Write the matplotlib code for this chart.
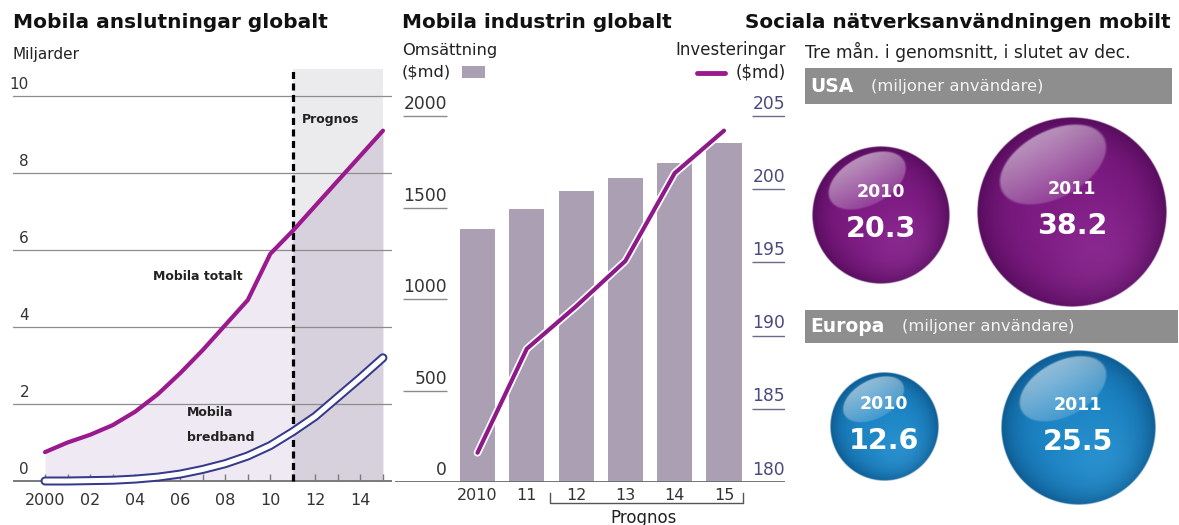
import matplotlib
matplotlib.use("Agg")
import matplotlib.pyplot as plt
import matplotlib.patheffects as pe
from matplotlib.patches import Rectangle
from matplotlib.colors import to_rgb
import numpy as np

W, H = 1179, 525

# --- data -------------------------------------------------------------
years = list(range(2000, 2016))
year_labels = ["2000", "02", "04", "06", "08", "10", "12", "14"]
mobila_totalt = [0.75, 1.0, 1.2, 1.45, 1.8, 2.25, 2.8, 3.4, 4.05, 4.7,
                 5.9, 6.5, 7.15, 7.8, 8.45, 9.1]
mobila_bredband = [0.0, 0.0, 0.01, 0.02, 0.05, 0.1, 0.18, 0.3, 0.45, 0.65,
                   0.92, 1.28, 1.68, 2.18, 2.68, 3.2]
prognos_start = 2011

ind_labels = ["2010", "11", "12", "13", "14", "15"]
omsattning = [1380, 1490, 1590, 1660, 1745, 1850]
investeringar = [182.0, 189.1, 192.0, 195.1, 201.1, 204.0]
left_ticks = [0, 500, 1000, 1500, 2000]
right_ticks = [180, 185, 190, 195, 200, 205]

social_years = ["2010", "2011"]
usa_users = [20.3, 38.2]
europa_users = [12.6, 25.5]

plt.rcParams["font.family"] = ["DejaVu Sans"]
fig = plt.figure(figsize=(W / 100, H / 100), dpi=100)
fig.patch.set_facecolor("white")


def px_axes(l, t, r, b):
    return fig.add_axes([l / W, 1 - b / H, (r - l) / W, (b - t) / H])


def ftext(x, y, s, **kw):
    kw.setdefault("va", "center")
    fig.text(x / W, 1 - y / H, s, **kw)


# --- panel 1: Mobila anslutningar globalt --------------------------------
ax1 = px_axes(13, 69, 392, 492.5)
x0, x1 = 2000 - 32 / 22.53, 2000 + 347 / 22.53
y0, y1 = -11.5 / 38.5, 412 / 38.5
ax1.set_xlim(x0, x1)
ax1.set_ylim(y0, y1)
ax1.axis("off")

yrs = np.array(years)
tot = np.array(mobila_totalt)
ax1.fill_between([prognos_start, yrs[-1]], 0, y1, color="#ebebee", lw=0, zorder=0)
m = yrs <= prognos_start
ax1.fill_between(yrs[m], 0, tot[m], color="#efe9f3", lw=0, zorder=1)
m = yrs >= prognos_start
ax1.fill_between(yrs[m], 0, tot[m], color="#d7d0dd", lw=0, zorder=1)

for v in [2, 4, 6, 8, 10]:
    ax1.axhline(v, color="#8d8d8d", lw=0.9, zorder=2)
ax1.axhline(0, color="#7a7a7a", lw=1.4, zorder=2)
ax1.vlines(years, 0, 0.17, color="#7a7a7a", lw=1.0, zorder=2)
for v in [0, 2, 4, 6, 8, 10]:
    ax1.text(1999.29, v + 0.31, str(v), ha="right", va="center",
             fontsize=11, color="#333333")
for yl, yr in zip(year_labels, years[::2]):
    ax1.text(yr, -0.5, yl, ha="center", va="center", fontsize=11.5,
             color="#333333", clip_on=False)

ax1.plot([prognos_start, prognos_start], [0, y1], color="black", lw=2.3,
         ls=(0, (2.2, 1.4)), zorder=4)
ax1.plot(years, mobila_totalt, color="#9a1a8e", lw=3, zorder=5,
         solid_capstyle="round")
ax1.plot(years, mobila_bredband, color="#353a8c", lw=6.5, zorder=5,
         solid_capstyle="round", clip_on=False)
ax1.plot(years, mobila_bredband, color="white", lw=3.6, zorder=6,
         solid_capstyle="round", clip_on=False)

ax1.text(2006.8, 5.32, "Mobila totalt", ha="center", va="center",
         fontsize=9, fontweight="bold", color="#222222")
ax1.text(2006.3, 1.79, "Mobila", ha="left", va="center",
         fontsize=9, fontweight="bold", color="#222222")
ax1.text(2006.3, 1.14, "bredband", ha="left", va="center",
         fontsize=9, fontweight="bold", color="#222222")
ax1.text(2011.4, 9.38, "Prognos", ha="left", va="center",
         fontsize=9, fontweight="bold", color="#222222")

ftext(13, 22, "Mobila anslutningar globalt", fontsize=14.5,
      fontweight="bold", color="#111111")
ftext(13, 55, "Miljarder", fontsize=11, color="#222222")

# --- panel 2: Mobila industrin globalt -----------------------------------
ax2 = px_axes(395, 100, 785, 482)
xl0, xl1 = (395 - 477.5) / 49.3, (785 - 477.5) / 49.3
top = 382 / 0.183
ax2.set_xlim(xl0, xl1)
ax2.set_ylim(0, top)
ax2.axis("off")
idx = np.arange(len(ind_labels))
ax2.bar(idx, omsattning, width=0.71, color="#ab9fb3", zorder=1)
ax2.axhline(0, color="#6a6a6a", lw=1.3, zorder=3)

for v in left_ticks:
    ax2.text(-0.62, v + 65, str(v), ha="right", va="center",
             fontsize=12.3, color="#333333")
    if v > 0:
        ax2.hlines(v, -1.51, -0.62, color="#8a8a8a", lw=1)

ax2r = ax2.twinx()
ax2r.set_xlim(xl0, xl1)
ax2r.set_ylim(180, 180 + top * 25 / 2000)
ax2r.axis("off")
for v in right_ticks:
    ax2r.text(xl1, v + 0.85, str(v), ha="right", va="center",
              fontsize=12.3, color="#4a4a7e")
    if v > 180:
        ax2r.hlines(v, 5.57, xl1, color="#6a6a8a", lw=1)
ax2r.plot(idx, investeringar, color="#8e1a8a", lw=3, zorder=5,
          solid_capstyle="round",
          path_effects=[pe.Stroke(linewidth=5.5, foreground="white"),
                        pe.Normal()])

tr = ax2.get_xaxis_transform()
for i, lab in zip(idx, ind_labels):
    ax2.text(i, -13 / 382, lab, transform=tr, ha="center", va="center",
             fontsize=11.5, color="#333333", clip_on=False)
by, bu = -21 / 382, -11 / 382
ax2.plot([1.47, 1.47, 5.39, 5.39], [bu, by, by, bu], transform=tr,
         color="#555555", lw=1, clip_on=False)
ax2.text(3.36, -36 / 382, "Prognos", transform=tr, ha="center",
         va="center", fontsize=12, color="#222222", clip_on=False)

ftext(402, 22, "Mobila industrin globalt", fontsize=14.4,
      fontweight="bold", color="#111111")
ftext(402, 50, "Omsättning", fontsize=11.7, color="#222222")
ftext(402, 72, "($md)", fontsize=11.7, color="#222222")
ftext(786, 50, "Investeringar", fontsize=12, color="#222222", ha="right")
ftext(786, 72, "($md)", fontsize=12, color="#222222", ha="right")

# legend swatches, drawn in figure pixel space
axl = px_axes(0, 0, W, H)
axl.set_xlim(0, W)
axl.set_ylim(H, 0)
axl.axis("off")
axl.add_patch(Rectangle((462, 66), 23, 12, color="#ab9fb3", lw=0))
axl.plot([697, 725], [73, 73], color="#9a1a8e", lw=3.5,
         solid_capstyle="round")

# --- panel 3: Sociala nätverksanvändningen mobilt -------------------------
ax3 = px_axes(745, 0, 1179, 525)
ax3.axis("off")

ax3.add_patch(Rectangle((805, 68), 367, 36, color="#8e8e8e", lw=0))
ax3.add_patch(Rectangle((805, 310), 373, 33, color="#8e8e8e", lw=0))
ax3.text(810, 87, "USA", color="white", fontsize=13.5, fontweight="bold",
         va="center")
ax3.text(871, 87, "(miljoner användare)", color="#f4f4f4", fontsize=11.8,
         va="center")
ax3.text(810, 327, "Europa", color="white", fontsize=13.5, fontweight="bold",
         va="center")
ax3.text(902, 327, "(miljoner användare)", color="#f4f4f4", fontsize=11.8,
         va="center")


def bubble(cx, cy, value, year, base, dark, light):
    r = 15.3 * np.sqrt(value)
    b, d, l = (np.array(to_rgb(c)) for c in (base, dark, light))
    n = 300
    xs = (np.arange(n) + 0.5) / n * 2 - 1
    X, Y = np.meshgrid(xs, xs)
    D = np.sqrt(X ** 2 + Y ** 2)
    t = np.clip(D, 0, 1)[..., None]
    col = b + (d - b) * t ** 4
    g = (np.exp(-((X - 0.3) ** 2 + (Y - 0.45) ** 2) / 0.3) * 0.45)[..., None]
    col = col + (l - col) * g
    th = np.radians(28)
    dx, dy = X + 0.2, Y + 0.5
    u = (dx * np.cos(th) - dy * np.sin(th)) / 0.62
    v = (dx * np.sin(th) + dy * np.cos(th)) / 0.36
    E = u ** 2 + v ** 2
    edge = np.clip((1 - E) * 10, 0, 1)
    h = (0.55 - 0.4 * np.clip((v + 1) / 2, 0, 1)) * edge
    col = col + (1 - col) * h[..., None]
    alpha = np.clip((1 - D) * r, 0, 1)
    img = np.dstack([np.clip(col, 0, 1), alpha])
    ax3.imshow(img, extent=(cx - r, cx + r, cy + r, cy - r),
               interpolation="bilinear", zorder=2)
    ax3.text(cx, cy - 23, year, color="white", fontsize=12.5,
             fontweight="bold", ha="center", va="center", zorder=4)
    ax3.text(cx, cy + 14, f"{value:.1f}", color="white", fontsize=20.5,
             fontweight="bold", ha="center", va="center", zorder=4)


for (cx, cy), v, yr in zip([(881, 215), (1072, 212)], usa_users, social_years):
    bubble(cx, cy, v, yr, "#7c1a82", "#560c5c", "#9a3aa0")
for (cx, cy), v, yr in zip([(884, 427), (1078, 428)], europa_users, social_years):
    bubble(cx, cy, v, yr, "#1c84c4", "#0d5a90", "#3aa0dc")

ax3.set_aspect("auto")
ax3.set_xlim(745, 1179)
ax3.set_ylim(525, 0)

ftext(745, 22, "Sociala nätverksanvändningen mobilt", fontsize=14.4,
      fontweight="bold", color="#111111")
ftext(805, 52, "Tre mån. i genomsnitt, i slutet av dec.", fontsize=12.3,
      color="#222222")

fig.savefig("out.png", dpi=100, facecolor="white")
